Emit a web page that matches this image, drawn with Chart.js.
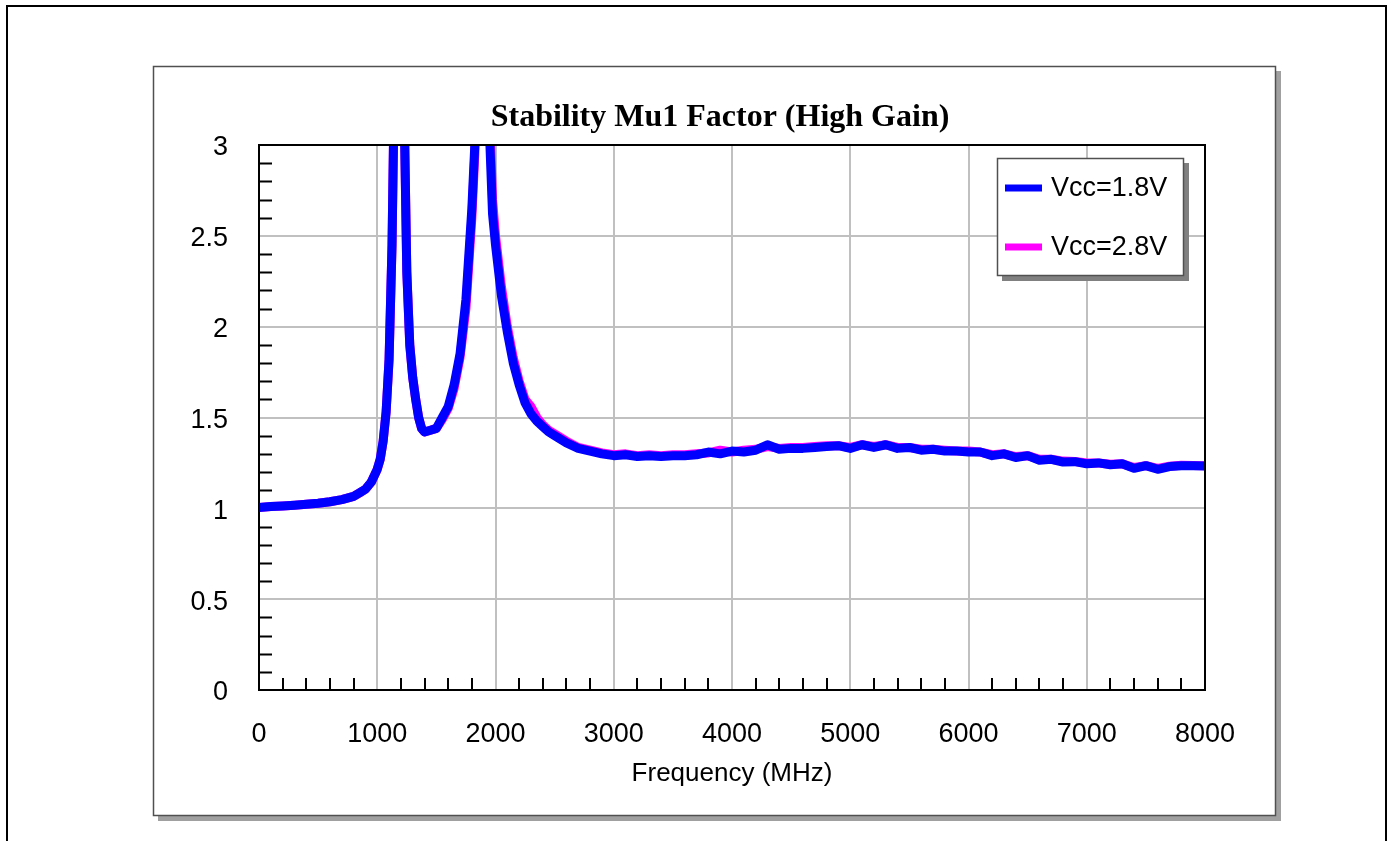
<!DOCTYPE html>
<html lang="en">

<head>
    <meta charset="UTF-8">
    <title>Stability Mu1 Factor (High Gain)</title>
    <script src="https://cdn.jsdelivr.net/npm/chart.js"></script>
    <style>
        body { margin: 0; background: #fff; }
    </style>
</head>

<body>
    <canvas id="myChart" width="1393" height="841"></canvas>
    <script>
        // frequency points (MHz)
        const freq = [
            0, 100, 200, 300, 400, 500, 600, 700, 800, 850, 900, 950, 1000, 1025, 1050, 1075, 1100, 1125, 1150, 1175,
            1200, 1225, 1250, 1275, 1300, 1325, 1350, 1375, 1400, 1450, 1500, 1550, 1600, 1650, 1700, 1750, 1800, 1825,
            1850, 1875, 1900, 1925, 1950, 1975, 2000, 2050, 2100, 2150, 2200, 2250, 2300, 2350, 2400, 2450, 2500, 2600,
            2700, 2800, 2900, 3000, 3100, 3200, 3300, 3400, 3500, 3600, 3700, 3800, 3900, 4000, 4100, 4200, 4300, 4400,
            4500, 4600, 4700, 4800, 4900, 5000, 5100, 5200, 5300, 5400, 5500, 5600, 5700, 5800, 5900, 6000, 6100, 6200,
            6300, 6400, 6500, 6600, 6700, 6800, 6900, 7000, 7100, 7200, 7300, 7400, 7500, 7600, 7700, 7800, 7900, 8000
        ];

        const mu1Vcc18 = [
            1.005, 1.01, 1.013, 1.017, 1.022, 1.028, 1.036, 1.048, 1.066, 1.085, 1.105, 1.145, 1.215, 1.27, 1.37, 1.53, 1.82, 2.45, 3.6, 6.5,
            5.0, 3.3, 2.3, 1.9, 1.72, 1.6, 1.5, 1.44, 1.42, 1.43, 1.44, 1.5, 1.56, 1.68, 1.85, 2.15, 2.65, 3.0,
            3.8, 5.5, 5.5, 3.9, 3.05, 2.62, 2.45, 2.17, 1.97, 1.8, 1.68, 1.58, 1.52, 1.48, 1.45, 1.42, 1.4, 1.36,
            1.33, 1.315, 1.3, 1.29, 1.295, 1.285, 1.29, 1.285, 1.29, 1.29, 1.295, 1.31, 1.3, 1.315, 1.31, 1.32, 1.35, 1.325,
            1.33, 1.33, 1.335, 1.34, 1.345, 1.33, 1.35, 1.335, 1.35, 1.33, 1.335, 1.32, 1.325, 1.315, 1.315, 1.31, 1.31, 1.29,
            1.3, 1.28, 1.29, 1.265, 1.27, 1.255, 1.257, 1.245, 1.25, 1.24, 1.245, 1.22, 1.235, 1.215, 1.23, 1.235, 1.235, 1.233
        ];

        const mu1Vcc28 = [
            1.005, 1.01, 1.013, 1.017, 1.022, 1.028, 1.036, 1.048, 1.066, 1.085, 1.105, 1.145, 1.215, 1.27, 1.37, 1.53, 1.82, 2.45, 3.6, 6.5,
            5.0, 3.3, 2.3, 1.9, 1.72, 1.6, 1.5, 1.44, 1.42, 1.43, 1.44, 1.49, 1.55, 1.66, 1.83, 2.1, 2.6, 2.95,
            3.7, 5.4, 5.6, 4.0, 3.15, 2.7, 2.5, 2.22, 2.0, 1.83, 1.7, 1.6, 1.56, 1.5, 1.46, 1.43, 1.41, 1.37,
            1.335, 1.32, 1.305, 1.295, 1.3, 1.29, 1.295, 1.29, 1.295, 1.295, 1.3, 1.305, 1.32, 1.31, 1.32, 1.325, 1.34, 1.33,
            1.335, 1.335, 1.34, 1.345, 1.345, 1.335, 1.35, 1.34, 1.35, 1.335, 1.335, 1.325, 1.325, 1.32, 1.315, 1.315, 1.31, 1.295,
            1.3, 1.285, 1.29, 1.27, 1.27, 1.26, 1.258, 1.25, 1.25, 1.243, 1.245, 1.225, 1.235, 1.22, 1.232, 1.237, 1.236, 1.235
        ];

        const seriesLabels = ['Vcc=1.8V', 'Vcc=2.8V'];
        const seriesColors = ['#0000ff', '#ff00ff'];
        const xRange = [0, 8000];
        const yRange = [0, 3];
        const chartTitle = 'Stability Mu1 Factor (High Gain)';

        const sans = "'Liberation Sans', Arial, sans-serif";

        // frames, title, minor ticks, plot border and legend drawn around the chart
        const decorPlugin = {
            id: 'decor',
            beforeDraw(chart) {
                const ctx = chart.ctx;
                ctx.save();
                ctx.fillStyle = '#fff';
                ctx.fillRect(0, 0, chart.width, chart.height);
                // outer frame
                ctx.strokeStyle = '#000';
                ctx.lineWidth = 2;
                ctx.strokeRect(7, 6, 1379, 900);
                // inner box with shadow
                ctx.fillStyle = '#a0a0a0';
                ctx.fillRect(158, 71, 1123, 750);
                ctx.fillStyle = '#fff';
                ctx.fillRect(153, 66, 1123, 750);
                ctx.strokeStyle = '#505050';
                ctx.lineWidth = 1.5;
                ctx.strokeRect(153.5, 66.5, 1122, 749);
                // title
                ctx.fillStyle = '#000';
                ctx.font = "bold 32px 'Liberation Serif', 'Times New Roman', serif";
                ctx.textAlign = 'center';
                ctx.textBaseline = 'middle';
                ctx.fillText(chartTitle, 720, 118);
                ctx.restore();
            },
            afterDatasetsDraw(chart) {
                const ctx = chart.ctx;
                const { left, right, top, bottom } = chart.chartArea;
                const xs = chart.scales.x, ys = chart.scales.y;
                ctx.save();
                ctx.strokeStyle = '#000';
                ctx.lineWidth = 2;
                ctx.beginPath();
                for (let i = 1; i < 30; i++) {
                    if (i % 5 === 0) continue;
                    const y = Math.round(ys.getPixelForValue(i / 10)) + 0.5;
                    ctx.moveTo(left, y);
                    ctx.lineTo(left + 13, y);
                }
                for (let f = 200; f < 8000; f += 200) {
                    if (f % 1000 === 0) continue;
                    const x = Math.round(xs.getPixelForValue(f));
                    ctx.moveTo(x, bottom);
                    ctx.lineTo(x, bottom - 12);
                }
                ctx.stroke();
                ctx.strokeRect(left, top, right - left, bottom - top);

                // legend
                const lx = 997, ly = 158, lw = 187, lh = 118;
                ctx.fillStyle = '#808080';
                ctx.fillRect(lx + 5, ly + 5, lw, lh);
                ctx.fillStyle = '#fff';
                ctx.fillRect(lx, ly, lw, lh);
                ctx.strokeStyle = '#505050';
                ctx.lineWidth = 1.5;
                ctx.strokeRect(lx + 0.5, ly + 0.5, lw - 1, lh - 1);
                ctx.font = '27px ' + sans;
                ctx.textBaseline = 'middle';
                chart.data.datasets.forEach((ds, i) => {
                    const cy = 188 + i * 59;
                    ctx.strokeStyle = ds.borderColor;
                    ctx.lineWidth = 7;
                    ctx.beginPath();
                    ctx.moveTo(1005, cy);
                    ctx.lineTo(1042, cy);
                    ctx.stroke();
                    ctx.fillStyle = '#000';
                    ctx.fillText(ds.label, 1051, cy + 1);
                });
                ctx.restore();
            }
        };

        function createChart() {
            const ctx = document.getElementById('myChart').getContext('2d');
            new Chart(ctx, {
                type: 'line',
                data: {
                    datasets: seriesLabels.map((label, i) => ({
                        label: label,
                        data: freq.map((f, j) => ({ x: f, y: [mu1Vcc18, mu1Vcc28][i][j] })),
                        borderColor: seriesColors[i],
                        backgroundColor: seriesColors[i],
                        borderWidth: 9,
                        pointRadius: 0,
                        tension: 0,
                        borderJoinStyle: 'round',
                        clip: 0
                    }))
                },
                options: {
                    responsive: false,
                    animation: false,
                    layout: { padding: { left: 0, top: 145, right: 188, bottom: 0 } },
                    plugins: {
                        legend: { display: false },
                        tooltip: { enabled: false },
                        title: { display: false }
                    },
                    scales: {
                        x: {
                            type: 'linear',
                            min: xRange[0],
                            max: xRange[1],
                            afterFit: s => { s.height = 151; },
                            border: { display: false },
                            grid: { color: '#c0c0c0', lineWidth: 2, drawTicks: false },
                            ticks: {
                                stepSize: 1000,
                                padding: 28,
                                color: '#000',
                                maxRotation: 0,
                                font: { family: sans, size: 27 },
                                callback: v => String(v)
                            },
                            title: {
                                display: true,
                                text: 'Frequency (MHz)',
                                color: '#000',
                                font: { family: sans, size: 26 },
                                padding: { top: 4, bottom: 52 }
                            }
                        },
                        y: {
                            min: yRange[0],
                            max: yRange[1],
                            afterFit: s => { s.width = 259; },
                            border: { display: false },
                            grid: { color: '#c0c0c0', lineWidth: 2, drawTicks: false },
                            ticks: {
                                stepSize: 0.5,
                                padding: 31,
                                labelOffset: 3,
                                color: '#000',
                                font: { family: sans, size: 27 },
                                callback: v => String(v)
                            }
                        }
                    }
                },
                plugins: [decorPlugin]
            });
        }

        document.addEventListener('DOMContentLoaded', createChart);
    </script>
</body>

</html>
